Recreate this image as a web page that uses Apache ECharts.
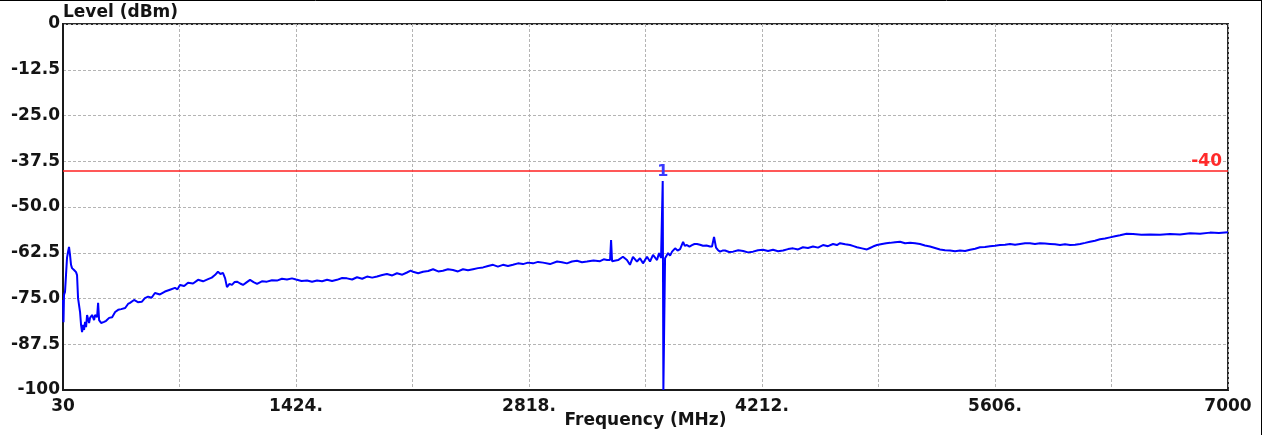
<!DOCTYPE html>
<html>
<head>
<meta charset="utf-8">
<script src="https://cdn.jsdelivr.net/npm/echarts@6/dist/echarts.min.js"></script>
<style>
  html, body { margin: 0; padding: 0; background: #fff; }
  #chart { width: 1268px; height: 435px; }
</style>
</head>
<body>
<div id="chart"></div>
<script>
// ---- data: [frequency MHz, level dBm] ----
const traceLowBand = [
  [30, -75.4], [33, -81.5], [36, -74.0], [42, -73.2], [48, -68.6], [54, -63.9], [60, -62.3], [66, -60.9],
  [72, -63.1], [78, -65.8], [84, -66.7], [90, -66.4], [96, -67.2], [102, -66.7], [108, -67.8], [114, -68.6],
  [120, -74.9], [126, -76.8], [132, -78.7], [138, -82.2], [144, -84.2], [150, -82.2], [156, -83.6], [162, -81.4],
  [168, -82.8], [174, -79.5], [186, -81.7], [192, -80.3], [204, -79.5], [216, -80.9], [222, -79.5], [234, -80.1],
  [240, -76.2], [246, -80.9], [258, -81.7], [276, -81.4], [288, -81.1], [306, -80.3], [324, -80.1], [342, -78.7],
  [360, -78.1], [378, -77.9], [402, -77.6], [419, -76.5], [431, -76.2], [455, -75.4], [478, -76.0], [501, -75.9],
  [520, -74.9], [539, -74.5], [560, -74.8], [580, -73.5], [610, -73.9], [640, -73.1], [670, -72.6], [700, -72.1],
  [715, -72.5], [730, -71.3], [755, -71.6], [778, -70.7], [808, -70.9], [838, -69.9], [868, -70.3], [898, -69.7],
  [920, -69.3], [939, -68.6], [957, -67.7], [972, -68.3], [987, -68.0], [1000, -69.5], [1011, -71.9], [1026, -71.0],
  [1041, -71.3], [1056, -70.5], [1071, -70.4], [1090, -70.9], [1107, -71.3], [1128, -70.6], [1149, -69.9], [1170, -70.5],
  [1191, -71.0], [1220, -70.3], [1250, -70.4], [1280, -70.0], [1310, -70.1], [1340, -69.6], [1370, -69.8], [1400, -69.5]
];
const traceMidBand = [
  [1424, -69.8], [1457, -70.2], [1490, -70.1], [1520, -70.4], [1550, -70.1], [1580, -70.3], [1610, -69.9], [1640, -70.2],
  [1669, -69.9], [1700, -69.4], [1729, -69.5], [1760, -69.8], [1789, -69.2], [1820, -69.6], [1849, -69.0], [1880, -69.3],
  [1909, -69.0], [1940, -68.6], [1968, -68.3], [2000, -68.7], [2028, -68.1], [2060, -68.5], [2088, -67.9], [2110, -67.4],
  [2124, -67.7], [2155, -68.1], [2184, -67.7], [2215, -67.5], [2244, -67.0], [2275, -67.6], [2303, -67.4], [2333, -67.0],
  [2363, -67.2], [2393, -67.6], [2423, -67.0], [2453, -67.3], [2483, -67.0], [2513, -66.7], [2543, -66.5], [2573, -66.1],
  [2603, -65.8], [2632, -66.3], [2662, -65.8], [2692, -66.1], [2722, -65.8], [2752, -65.4], [2782, -65.6], [2812, -65.2],
  [2842, -65.4], [2872, -65.0], [2902, -65.2], [2944, -65.6], [2986, -64.9], [3015, -65.1], [3045, -65.4], [3075, -64.9],
  [3105, -64.7], [3135, -65.1], [3165, -64.9], [3204, -64.6], [3243, -64.8], [3265, -64.3], [3285, -64.5], [3303, -64.5],
  [3309, -59.0], [3315, -64.8], [3351, -64.5], [3380, -63.6], [3404, -64.5], [3422, -65.8], [3440, -63.6], [3464, -64.9],
  [3482, -64.0], [3500, -65.4], [3524, -63.6], [3542, -64.9], [3560, -63.1], [3584, -64.5], [3596, -62.6], [3608, -63.9],
  [3618, -42.9], [3622, -100], [3632, -64.0], [3650, -62.6], [3662, -63.3], [3674, -62.2], [3692, -61.3], [3707, -61.9],
  [3722, -61.5], [3740, -59.5], [3750, -60.6], [3763, -60.4], [3778, -60.8], [3793, -60.4], [3808, -60.1], [3823, -60.1],
  [3841, -60.3], [3859, -60.6], [3880, -60.5], [3901, -60.8], [3913, -60.8], [3925, -58.2], [3937, -61.1], [3949, -61.8],
  [3961, -62.2], [3976, -61.9]
];
const traceHighBand = [
  [3991, -61.9], [4015, -62.3], [4039, -62.2], [4070, -61.8], [4099, -62.0], [4128, -62.4], [4158, -62.2], [4188, -61.8],
  [4218, -61.7], [4248, -62.0], [4278, -61.7], [4308, -62.1], [4338, -61.9], [4368, -61.5], [4398, -61.3], [4428, -61.6],
  [4457, -61.0], [4487, -61.2], [4517, -60.8], [4547, -61.1], [4577, -60.4], [4607, -60.7], [4637, -60.1], [4660, -60.4],
  [4679, -59.9], [4710, -60.2], [4739, -60.4], [4760, -60.7], [4780, -61.0], [4810, -61.3], [4840, -61.6], [4858, -61.2],
  [4876, -60.8], [4900, -60.4], [4930, -60.1], [4955, -59.9], [4978, -59.8], [5008, -59.6], [5038, -59.5], [5068, -59.9],
  [5098, -59.8], [5128, -59.9], [5157, -60.1], [5187, -60.5], [5217, -60.8], [5247, -61.2], [5277, -61.6], [5307, -61.8],
  [5337, -61.9], [5367, -62.1], [5397, -61.9], [5427, -62.0], [5457, -61.7], [5487, -61.4], [5516, -61.0], [5546, -60.9],
  [5576, -60.7], [5606, -60.6], [5636, -60.4], [5666, -60.3], [5696, -60.1], [5726, -60.3], [5756, -60.1], [5786, -59.9],
  [5815, -59.9], [5845, -60.1], [5875, -59.9], [5905, -60.0], [5935, -60.1], [5965, -60.2], [5995, -60.4], [6025, -60.2],
  [6055, -60.4], [6085, -60.3], [6115, -60.1], [6145, -59.8], [6174, -59.5], [6204, -59.2], [6234, -58.8], [6264, -58.6],
  [6294, -58.3], [6324, -58.0], [6354, -57.7], [6393, -57.3], [6432, -57.4], [6482, -57.6], [6533, -57.5], [6593, -57.6],
  [6653, -57.4], [6713, -57.5], [6773, -57.2], [6833, -57.3], [6893, -57.0], [6946, -57.1], [7000, -56.9]
];
const limitLevel = -40;
const limitLabel = '-40';
const markerFreq = 3618;
const markerLevel = -42.9;
const markerLabel = '1';
const xTickLabels = ['30', '', '1424.', '', '2818.', '', '4212.', '', '5606.', '', '7000'];
const yTickLabels = ['-100', '-87.5', '-75.0', '-62.5', '-50.0', '-37.5', '-25.0', '-12.5', '0'];
const xTitle = 'Frequency (MHz)';
const yTitle = 'Level (dBm)';

const X_MIN = 30, X_MAX = 7000, X_STEP = 697;
const Y_MIN = -100, Y_MAX = 0, Y_STEP = 12.5;

const FONT = '"DejaVu Sans", "Liberation Sans", sans-serif';
const TXT = '#141414';

const chart = echarts.init(document.getElementById('chart'), null, { renderer: 'canvas' });
const series = traceLowBand.concat(traceMidBand, traceHighBand);

chart.setOption({
  animation: false,
  backgroundColor: '#ffffff',
  grid: {
    left: 63, right: 40, top: 24, bottom: 45,
    containLabel: false, outerBoundsMode: 'none',
    show: true, borderColor: '#2a2a2a', borderWidth: 2, backgroundColor: '#ffffff'
  },
  xAxis: {
    type: 'value', min: X_MIN, max: X_MAX, interval: X_STEP,
    name: xTitle, nameLocation: 'middle', nameGap: 31, nameMoveOverlap: false,
    nameTextStyle: { fontFamily: FONT, fontWeight: 'bold', fontSize: 17, color: TXT, verticalAlign: 'middle' },
    axisLine: { show: true, onZero: false, lineStyle: { color: '#1a1a1a', width: 2 } },
    axisTick: { show: false },
    axisLabel: {
      show: true, margin: 8, showMinLabel: true, showMaxLabel: true, hideOverlap: false,
      fontFamily: FONT, fontWeight: 'bold', fontSize: 17, color: TXT,
      formatter: v => {
        const i = Math.round((v - X_MIN) / X_STEP);
        return xTickLabels[i] !== undefined ? xTickLabels[i] : '';
      }
    },
    splitLine: { show: true, lineStyle: { color: '#b4b4b4', width: 1, type: [3, 2] } }
  },
  yAxis: {
    type: 'value', min: Y_MIN, max: Y_MAX, interval: Y_STEP,
    name: yTitle, nameLocation: 'end', nameGap: 11, nameMoveOverlap: false,
    nameTextStyle: { fontFamily: FONT, fontWeight: 'bold', fontSize: 17, color: TXT, align: 'left', verticalAlign: 'middle' },
    axisLine: { show: true, lineStyle: { color: '#1a1a1a', width: 2 } },
    axisTick: { show: false },
    axisLabel: {
      show: true, margin: 3, showMinLabel: true, showMaxLabel: true, hideOverlap: false,
      fontFamily: FONT, fontWeight: 'bold', fontSize: 17, color: TXT,
      formatter: v => {
        const i = Math.round((v - Y_MIN) / Y_STEP);
        return yTickLabels[i] !== undefined ? yTickLabels[i] : '';
      }
    },
    splitLine: { show: true, lineStyle: { color: '#b4b4b4', width: 1, type: [3, 2] } }
  },
  series: [{
    type: 'line',
    data: series,
    showSymbol: false,
    symbol: 'none',
    smooth: false,
    clip: true,
    lineStyle: { color: '#0000ff', width: 2 },
    z: 3,
    markLine: {
      silent: true,
      symbol: ['none', 'none'],
      lineStyle: { color: '#ff2020', width: 1.5, type: 'solid' },
      label: {
        show: true, position: 'insideEndTop', formatter: limitLabel, distance: [6, 0],
        fontFamily: FONT, fontWeight: 'bold', fontSize: 17, color: '#ff2a2a'
      },
      data: [{ yAxis: limitLevel }],
      z: 4
    },
    markPoint: {
      silent: true,
      symbol: 'circle', symbolSize: 1,
      itemStyle: { color: 'rgba(0,0,0,0)' },
      label: {
        show: true, position: 'top', distance: 1, formatter: markerLabel,
        fontFamily: FONT, fontWeight: 'bold', fontSize: 16, color: '#3a3aff'
      },
      data: [{ coord: [markerFreq, markerLevel] }]
    }
  }],
  graphic: [
    { type: 'line', shape: { x1: 0, y1: 0.5, x2: 1262, y2: 0.5 }, style: { stroke: '#000', lineWidth: 1 }, silent: true },
    { type: 'line', shape: { x1: 1261.5, y1: 0, x2: 1261.5, y2: 435 }, style: { stroke: '#000', lineWidth: 1 }, silent: true }
  ]
});
</script>
</body>
</html>
